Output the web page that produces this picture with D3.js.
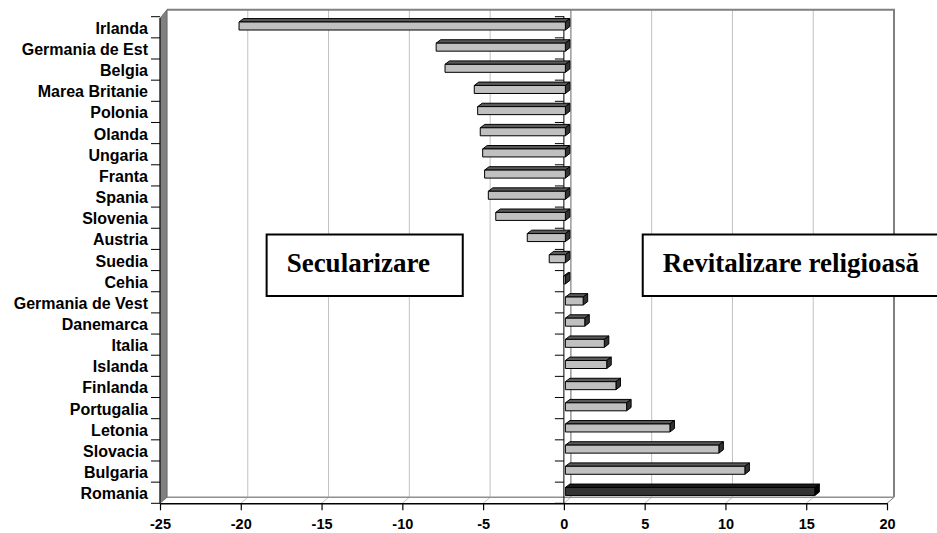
<!DOCTYPE html>
<html>
<head>
<meta charset="utf-8">
<script src="https://cdn.jsdelivr.net/npm/d3@7"></script>
<style>
  html, body { margin: 0; padding: 0; background: #fff; }
  svg { display: block; }
</style>
</head>
<body>
<svg id="chart" width="937" height="533"></svg>
<script>
const categories = ["Irlanda","Germania de Est","Belgia","Marea Britanie","Polonia","Olanda","Ungaria","Franta","Spania","Slovenia","Austria","Suedia","Cehia","Germania de Vest","Danemarca","Italia","Islanda","Finlanda","Portugalia","Letonia","Slovacia","Bulgaria","Romania"];
const values = [-20.2,-8.0,-7.45,-5.64,-5.43,-5.27,-5.12,-5.0,-4.77,-4.31,-2.36,-1.0,-0.1,1.1,1.2,2.41,2.56,3.13,3.79,6.47,9.5,11.11,15.44];
const xTicks = [-25,-20,-15,-10,-5,0,5,10,15,20];
const highlighted = ["Romania"];
const annotations = [
  {text: "Secularizare", x0: -18.4, x1: -6.26},
  {text: "Revitalizare religioasă", x0: 4.88, x1: 23.5}
];

const data = categories.map((c, i) => ({cat: c, val: values[i]}));

const svg = d3.select("#chart");
const x = d3.scaleLinear().domain([-25, 20]).range([160, 887]);
const y = d3.scaleBand().domain(categories).range([16.7, 503.3]).padding(0);
const D = {dx: 7, dy: -6};          // depth of the 3D box
const B = {dx: 1.5, dy: -1.3};      // bar front-plane offset
const BD = {dx: 4.5, dy: -3.4};     // bar depth
const sans = "'Liberation Sans', Arial, sans-serif";
const serif = "'Liberation Serif', 'Times New Roman', serif";

const yTop = y.range()[0], yBot = y.range()[1];
const backTop = yTop + D.dy - 1;   // ~ 12
const backBot = yBot + D.dy;       // ~ 497

// Back wall gridlines
svg.append("g").selectAll("line").data(xTicks.filter(t => t !== 0 && t !== 20)).join("line")
  .attr("x1", d => x(d) + D.dx).attr("x2", d => x(d) + D.dx)
  .attr("y1", backTop).attr("y2", backBot)
  .attr("stroke", "#c0c0c0").attr("stroke-width", 1);
// Floor diagonals
svg.append("g").selectAll("line").data(xTicks.filter(t => t !== -25)).join("line")
  .attr("x1", d => x(d)).attr("y1", yBot)
  .attr("x2", d => x(d) + D.dx).attr("y2", backBot)
  .attr("stroke", d => d === 20 ? "#808080" : "#c0c0c0").attr("stroke-width", 1);
// Back zero line
svg.append("line")
  .attr("x1", x(0) + D.dx).attr("x2", x(0) + D.dx)
  .attr("y1", backTop).attr("y2", backBot)
  .attr("stroke", "#808080").attr("stroke-width", 1.2);
// Back wall top & right edges
svg.append("path")
  .attr("d", `M${x(-25) + D.dx},${backTop} L${x(20) + D.dx},${backTop} L${x(20) + D.dx},${backBot}`)
  .attr("fill", "none").attr("stroke", "#808080").attr("stroke-width", 2);
// Floor back edge
svg.append("line")
  .attr("x1", x(-25) + D.dx).attr("x2", x(20) + D.dx)
  .attr("y1", backBot).attr("y2", backBot)
  .attr("stroke", "#909090").attr("stroke-width", 1.5);
// Left wall
svg.append("path")
  .attr("d", `M${x(-25)},${yTop + 1.5} L${x(-25) + D.dx},${backTop} L${x(-25) + D.dx},${backBot} L${x(-25)},${yBot} Z`)
  .attr("fill", "#808080").attr("stroke", "#606060").attr("stroke-width", 0.8);

// Annotation boxes
const ann = svg.append("g");
annotations.forEach(a => {
  const x0 = x(a.x0), x1 = x(a.x1);
  ann.append("rect")
    .attr("x", x0).attr("y", 234.5).attr("width", x1 - x0).attr("height", 61.5)
    .attr("fill", "#fff").attr("stroke", "#000").attr("stroke-width", 2);
  ann.append("text").attr("x", x0 + 20).attr("y", 272)
    .attr("text-anchor", "start").attr("font-family", serif).attr("font-weight", "bold")
    .attr("font-size", "27px").attr("fill", "#000").text(a.text);
});

// Zero (category) axis at front
svg.append("line")
  .attr("x1", x(0)).attr("x2", x(0)).attr("y1", yTop - 0.5).attr("y2", yBot)
  .attr("stroke", "#000").attr("stroke-width", 1);
const bounds = d3.range(categories.length + 1).map(i => yTop + i * y.bandwidth());
svg.append("g").selectAll("line").data(bounds).join("line")
  .attr("x1", x(0) - 9).attr("x2", x(0)).attr("y1", d => d).attr("y2", d => d)
  .attr("stroke", "#000").attr("stroke-width", 1);

// Bars
const bars = svg.append("g");
const bw = y.bandwidth();
data.forEach(d => {
  const hi = highlighted.includes(d.cat);
  const xa = Math.min(x(0), x(d.val)) + B.dx;
  const xb = Math.max(x(0), x(d.val)) + B.dx;
  const yt = y(d.cat) + B.dy + 6.6;
  const h = 8;
  const g = bars.append("g").attr("stroke", "#000").attr("stroke-width", 1).attr("stroke-linejoin", "round");
  // top face
  g.append("path")
    .attr("d", `M${xa},${yt} L${xa + BD.dx},${yt + BD.dy} L${xb + BD.dx},${yt + BD.dy} L${xb},${yt} Z`)
    .attr("fill", hi ? "#1a1a1a" : "#5a5a5a");
  // right face
  g.append("path")
    .attr("d", `M${xb},${yt} L${xb + BD.dx},${yt + BD.dy} L${xb + BD.dx},${yt + h + BD.dy} L${xb},${yt + h} Z`)
    .attr("fill", hi ? "#000" : "#333333");
  // front face
  g.append("rect")
    .attr("x", xa).attr("y", yt).attr("width", Math.max(0, xb - xa)).attr("height", h)
    .attr("fill", hi ? "#333333" : "#c0c0c0");
});

// Left axis line + ticks + labels
svg.append("line")
  .attr("x1", x(-25)).attr("x2", x(-25)).attr("y1", yTop + 1.5).attr("y2", yBot)
  .attr("stroke", "#000").attr("stroke-width", 1);
svg.append("g").selectAll("line").data(bounds).join("line")
  .attr("x1", x(-25) - 9).attr("x2", x(-25)).attr("y1", d => d).attr("y2", d => d)
  .attr("stroke", "#000").attr("stroke-width", 1);
svg.append("g").selectAll("text").data(categories).join("text")
  .attr("x", 148).attr("y", d => y(d) + bw / 2 + 6.5)
  .attr("text-anchor", "end").attr("font-family", sans).attr("font-weight", "bold")
  .attr("font-size", "16px").attr("fill", "#000").text(d => d);

// Bottom axis
const xAxis = d3.axisBottom(x).tickValues(xTicks).tickSize(7).tickSizeOuter(0).tickPadding(6).tickFormat(d3.format("d"));
const gx = svg.append("g").attr("transform", `translate(0,${yBot})`).call(xAxis);
gx.select(".domain").attr("stroke", "#000").attr("stroke-width", 1.5);
gx.selectAll(".tick line").attr("stroke", "#000").attr("stroke-width", 1.2);
gx.selectAll(".tick text").attr("font-family", sans).attr("font-weight", "bold")
  .attr("font-size", "14.5px").attr("fill", "#000").attr("dy", "0.9em")
  .text(d => d < 0 ? "-" + Math.abs(d) : d);
</script>
</body>
</html>
